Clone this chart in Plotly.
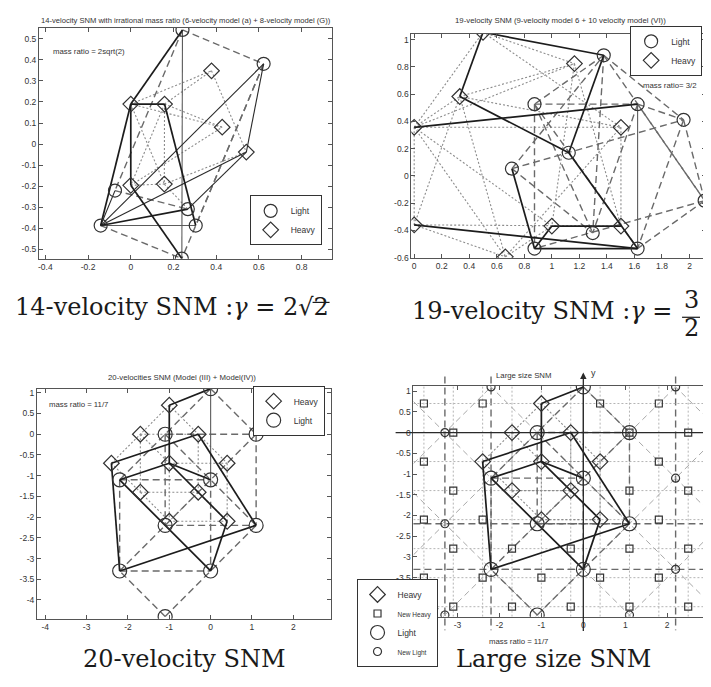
import plotly.graph_objects as go

W, H = 711, 687

# ---------------- Panel 1 : 14-velocity SNM ----------------
p1_light_id = ["A", "B", "C", "D", "E", "F", "G"]
p1_light_x = [0.242, 0.622, -0.074, 0.267, 0.304, -0.141, 0.239]
p1_light_y = [0.542, 0.381, -0.221, -0.309, -0.387, -0.387, -0.544]
p1_heavy_id = ["P", "Q", "R", "S", "T", "U", "V"]
p1_heavy_x = [0.0, 0.158, 0.378, 0.428, 0.541, 0.0, 0.157]
p1_heavy_y = [0.19, 0.19, 0.348, 0.08, -0.038, -0.196, -0.19]
p1_thick = [("A", "P"), ("P", "F"), ("P", "Q"), ("P", "U"), ("Q", "E"), ("F", "D"), ("U", "G")]
p1_thin = [("F", "B"), ("B", "T"), ("T", "D"), ("F", "C"), ("F", "T")]
p1_grey = [("A", "G"), ("F", "E")]
p1_dashed = [("A", "B"), ("A", "C"), ("C", "D"), ("B", "G"), ("B", "E"), ("F", "G")]
p1_dotted = [("P", "R"), ("R", "T"), ("Q", "S"), ("U", "S"), ("V", "T"), ("P", "V"),
             ("Q", "U"), ("Q", "V"), ("U", "V"), ("P", "S"), ("V", "D"), ("Q", "R")]
p1_xticks = [-0.4, -0.2, 0, 0.2, 0.4, 0.6, 0.8]
p1_yticks = [-0.5, -0.4, -0.3, -0.2, -0.1, 0, 0.1, 0.2, 0.3, 0.4, 0.5]

# ---------------- Panel 2 : 19-velocity SNM ----------------
p2_light_id = ["L1", "L2", "L3", "L4", "L5", "L6", "L7", "L8", "L9", "L10"]
p2_light_x = [1.377, 0.874, 1.623, 1.957, 1.123, 0.71, 2.11, 1.297, 0.874, 1.623]
p2_light_y = [0.886, 0.527, 0.527, 0.412, 0.17, 0.053, -0.182, -0.42, -0.534, -0.534]
p2_heavy_id = ["H1", "H2", "H3", "H4", "H5", "H6", "H7", "H8", "H9"]
p2_heavy_x = [0.5, 1.164, 0.331, 0.0, 1.502, 0.0, 1.0, 1.502, 0.662]
p2_heavy_y = [1.055, 0.825, 0.583, 0.357, 0.357, -0.36, -0.369, -0.369, -0.595]
p2_thick = [("H1", "L1"), ("H1", "H3"), ("H3", "L5"), ("L5", "L1"), ("H4", "L3"), ("H6", "L10"),
            ("L6", "L9"), ("H7", "H8"), ("H7", "L9"), ("L9", "L10"), ("L5", "L10")]
p2_grey = [("L3", "L10")]
p2_dashed = [("L2", "L9"), ("L2", "L3"), ("L6", "L1"), ("L6", "L4"), ("L6", "L8"), ("L2", "L8"),
             ("L1", "L8"), ("L1", "L4"), ("L1", "L7"), ("L3", "L4"), ("L4", "L10"), ("L4", "L7"),
             ("L7", "L9"), ("L7", "L10"), ("L3", "L8"), ("L2", "L10"), ("L1", "L2"), ("L3", "L7")]
p2_dotted = [("H4", "H1"), ("H4", "H3"), ("H4", "H2"), ("H4", "H5"), ("H4", "H6"), ("H4", "H9"),
             ("H4", "H7"), ("H6", "H3"), ("H6", "H8"), ("H6", "H9"), ("H1", "H2"), ("H1", "H5"),
             ("H3", "H2"), ("H3", "H9"), ("H3", "H5"), ("H2", "H7"), ("H2", "H8"), ("H5", "H8"),
             ("H5", "H9"), ("H9", "H7")]
p2_xticks = [0, 0.2, 0.4, 0.6, 0.8, 1, 1.2, 1.4, 1.6, 1.8, 2]
p2_yticks = [-0.6, -0.4, -0.2, 0, 0.2, 0.4, 0.6, 0.8, 1]

# ---------------- Panel 3 / 4 : 20-velocity SNM ----------------
p3_light_id = ["a", "b", "c", "d", "e", "f", "g", "h", "i", "j"]
p3_light_x = [0.0, -1.1, 1.1, -2.2, 0.0, 1.1, -1.1, -2.2, 0.0, -1.1]
p3_light_y = [1.1, 0.0, 0.0, -1.1, -1.1, -2.2, -2.2, -3.3, -3.3, -4.4]
p3_heavy_id = ["k", "l", "m", "n", "o", "p", "q", "r", "s", "t"]
p3_heavy_x = [-1.0, -1.7, -0.3, -2.4, -1.0, 0.4, -1.7, -0.3, -1.0, 0.4]
p3_heavy_y = [0.7, 0.0, 0.0, -0.7, -0.7, -0.7, -1.4, -1.4, -2.1, -2.1]
p3_thick = [("k", "a"), ("k", "o"), ("n", "m"), ("m", "f"), ("n", "h"), ("h", "f"),
            ("d", "o"), ("o", "e"), ("d", "i"), ("i", "t"), ("o", "t")]
p3_grey = [("a", "e")]
p3_dashed = [("b", "c"), ("c", "f"), ("d", "e"), ("b", "g"), ("g", "f"), ("e", "i"), ("h", "i"),
             ("d", "h"), ("a", "c"), ("a", "d"), ("c", "h"), ("b", "f"), ("j", "h"), ("j", "f")]
p3_dotted = [("l", "m"), ("o", "p"), ("q", "r"), ("s", "t"), ("l", "q"), ("m", "r"), ("o", "s"),
             ("p", "t"), ("k", "l"), ("k", "m"), ("n", "l"), ("n", "q"), ("m", "p"), ("q", "s"),
             ("r", "t"), ("l", "o"), ("r", "s")]
p3_xticks = [-4, -3, -2, -1, 0, 1, 2]
p3_yticks = [-4, -3.5, -3, -2.5, -2, -1.5, -1, -0.5, 0, 0.5, 1]

# Panel 4 extras (large size SNM)
p4_newheavy_x = [-3.8, -2.4, 0.4, 1.8, -3.1, 1.1, 2.5, -3.8, 1.8, -3.1, 1.1, 2.5, -3.8, -2.4, 1.8,
                 -3.1, -1.7, -0.3, 1.1, 2.5, -3.8, -2.4, -1.0, 0.4, 1.8, -3.1, -1.7, -0.3, 1.1, 2.5]
p4_newheavy_y = [0.7, 0.7, 0.7, 0.7, 0.0, 0.0, 0.0, -0.7, -0.7, -1.4, -1.4, -1.4, -2.1, -2.1, -2.1,
                 -2.8, -2.8, -2.8, -2.8, -2.8, -3.5, -3.5, -3.5, -3.5, -3.5, -4.2, -4.2, -4.2, -4.2, -4.2]
p4_newlight_x = [-2.2, 2.2, -3.3, 2.2, -3.3, 2.2, -3.3, 1.1]
p4_newlight_y = [1.1, 1.1, 0.0, -1.1, -2.2, -3.3, -4.4, -4.4]
p4_grid_x = [-3.8, -3.1, -2.4, -1.7, -1.0, -0.3, 0.4, 1.1, 1.8, 2.5]
p4_grid_y = [0.7, 0.0, -0.7, -1.4, -2.1, -2.8, -3.5, -4.2]
p4_diag_minus = [-3.3, -1.1, 1.1, 3.3, 5.5]      # x - y = c
p4_diag_plus = [-7.7, -5.5, -3.3, -1.1, 1.1, 3.3]  # x + y = c
p4_dash_vx = [-3.3, -2.2, 2.2]
p4_dash_hy = [-2.2, -3.3]
p4_xticks = [-3, -2, -1, 0, 1, 2]
p4_yticks = [-3.5, -3, -2.5, -2, -1.5, -1, -0.5, 0, 0.5, 1]

# ---------------- layout geometry (pixels) ----------------
PAN = {
    1: dict(xpx=(30, 323), ypx=(19, 252), xr=(-0.43, 0.94), yr=(-0.545, 0.552)),
    2: dict(xpx=(403, 698), ypx=(25, 251), xr=(-0.02, 2.12), yr=(-0.602, 1.044)),
    3: dict(xpx=(28, 322), ypx=(383, 615), xr=(-4.2, 2.9), yr=(-4.45, 1.1)),
    4: dict(xpx=(405, 702), ypx=(380, 613), xr=(-4.05, 3.02), yr=(-4.44, 1.13)),
}

LINE = {
    "thick": dict(color="#1c1c1c", width=1.7),
    "thin": dict(color="#2a2a2a", width=1.1),
    "grey": dict(color="#5c5c5c", width=1.1),
    "dashed": dict(color="#6a6a6a", width=1.4, dash="7px,4px"),
    "dotted": dict(color="#8c8c8c", width=1.1, dash="2px,2px"),
    "grid": dict(color="#b4b4b4", width=1.0, dash="2px,2px"),
    "diag": dict(color="#a8a8a8", width=1.0, dash="6px,4px"),
}
MK_COLOR = "#333333"
FONT = "Liberation Sans"
SERIF = "DejaVu Serif"

fig = go.Figure()


def ids(n):
    return ("x" if n == 1 else f"x{n}"), ("y" if n == 1 else f"y{n}")


def pts_of(idl, xs, ys):
    return {k: (x, y) for k, x, y in zip(idl, xs, ys)}


def add_segments(n, pairs, pts, style):
    xa, ya = ids(n)
    xs, ys = [], []
    for a, b in pairs:
        xs += [pts[a][0], pts[b][0], None]
        ys += [pts[a][1], pts[b][1], None]
    fig.add_trace(go.Scatter(x=xs, y=ys, mode="lines", line=LINE[style], xaxis=xa, yaxis=ya,
                             showlegend=False, hoverinfo="skip"))


def add_lines_xy(n, xs, ys, style):
    xa, ya = ids(n)
    fig.add_trace(go.Scatter(x=xs, y=ys, mode="lines", line=LINE[style], xaxis=xa, yaxis=ya,
                             showlegend=False, hoverinfo="skip"))


def add_markers(n, xs, ys, name, symbol, size, legend):
    xa, ya = ids(n)
    fig.add_trace(go.Scatter(x=xs, y=ys, mode="markers", name=name, xaxis=xa, yaxis=ya,
                             marker=dict(symbol=symbol, size=size, color=MK_COLOR, line=dict(width=1.2)),
                             legend=legend, showlegend=True, hoverinfo="skip"))


# Panel 1
pts1 = {**pts_of(p1_light_id, p1_light_x, p1_light_y), **pts_of(p1_heavy_id, p1_heavy_x, p1_heavy_y)}
for st, pr in [("dotted", p1_dotted), ("dashed", p1_dashed), ("grey", p1_grey), ("thin", p1_thin), ("thick", p1_thick)]:
    add_segments(1, pr, pts1, st)
add_markers(1, p1_light_x, p1_light_y, "Light", "circle-open", 13, "legend")
add_markers(1, p1_heavy_x, p1_heavy_y, "Heavy", "diamond-open", 12, "legend")

# Panel 2
pts2 = {**pts_of(p2_light_id, p2_light_x, p2_light_y), **pts_of(p2_heavy_id, p2_heavy_x, p2_heavy_y)}
for st, pr in [("dotted", p2_dotted), ("dashed", p2_dashed), ("grey", p2_grey), ("thick", p2_thick)]:
    add_segments(2, pr, pts2, st)
add_markers(2, p2_light_x, p2_light_y, "Light", "circle-open", 13, "legend2")
add_markers(2, p2_heavy_x, p2_heavy_y, "Heavy", "diamond-open", 12, "legend2")

# Panel 3
pts3 = {**pts_of(p3_light_id, p3_light_x, p3_light_y), **pts_of(p3_heavy_id, p3_heavy_x, p3_heavy_y)}
for st, pr in [("dotted", p3_dotted), ("dashed", p3_dashed), ("grey", p3_grey), ("thick", p3_thick)]:
    add_segments(3, pr, pts3, st)
add_markers(3, p3_heavy_x, p3_heavy_y, "Heavy", "diamond-open", 12, "legend3")
add_markers(3, p3_light_x, p3_light_y, "Light", "circle-open", 14, "legend3")

# Panel 4 : background lattice
x0, x1 = PAN[4]["xr"]
y0, y1 = PAN[4]["yr"]
gx, gy = [], []
for v in p4_grid_x:
    gx += [v, v, None]; gy += [y0, y1, None]
for v in p4_grid_y:
    gx += [x0, x1, None]; gy += [v, v, None]
add_lines_xy(4, gx, gy, "grid")
dx, dy = [], []
for c in p4_diag_minus:
    xa_, xb_ = max(x0, y0 + c), min(x1, y1 + c)
    if xb_ > xa_:
        dx += [xa_, xb_, None]; dy += [xa_ - c, xb_ - c, None]
for c in p4_diag_plus:
    xa_, xb_ = max(x0, c - y1), min(x1, c - y0)
    if xb_ > xa_:
        dx += [xa_, xb_, None]; dy += [c - xa_, c - xb_, None]
add_lines_xy(4, dx, dy, "diag")
for st, pr in [("dotted", p3_dotted), ("dashed", p3_dashed), ("grey", p3_grey), ("thick", p3_thick)]:
    add_segments(4, pr, pts3, st)
SMALL = '<span style="font-size:6.5px">%s</span>'
add_markers(4, p3_heavy_x, p3_heavy_y, "Heavy", "diamond-open", 12, "legend4")
add_markers(4, p4_newheavy_x, p4_newheavy_y, SMALL % "New Heavy", "square-open", 7, "legend4")
add_markers(4, p3_light_x, p3_light_y, "Light", "circle-open", 14, "legend4")
add_markers(4, p4_newlight_x, p4_newlight_y, SMALL % "New Light", "circle-open", 8, "legend4")


def d2p(n, x, y):
    P = PAN[n]
    (a0, a1), (b0, b1) = P["xpx"], P["ypx"]
    (r0, r1), (s0, s1) = P["xr"], P["yr"]
    px = a0 + (x - r0) / (r1 - r0) * (a1 - a0)
    py = b0 + (s1 - y) / (s1 - s0) * (b1 - b0)
    return px, py


shapes = []
annotations = []

# extended dashed light lines of panel 4 (drawn past the frame like the original)
for v in p4_dash_vx:
    xa_, ya_ = d2p(4, v, 1.35)
    xb_, yb_ = d2p(4, v, -4.77)
    shapes.append(dict(type="line", xref="paper", yref="paper", x0=xa_ / W, x1=xb_ / W,
                       y0=1 - ya_ / H, y1=1 - yb_ / H, layer="below",
                       line=dict(color="#6a6a6a", width=1.4, dash="7px,4px")))
for v in p4_dash_hy:
    xa_, ya_ = d2p(4, -4.05, v)
    xb_, yb_ = d2p(4, 3.2, v)
    shapes.append(dict(type="line", xref="paper", yref="paper", x0=xa_ / W, x1=xb_ / W,
                       y0=1 - ya_ / H, y1=1 - yb_ / H, layer="below",
                       line=dict(color="#6a6a6a", width=1.4, dash="7px,4px")))

# axis arrows of panel 4
hx, hy = d2p(4, 3.2, 0)
tx, ty = d2p(4, -4.5, 0)
annotations.append(dict(x=hx / W, y=1 - hy / H, xref="paper", yref="paper", ax=tx - hx, ay=ty - hy,
                        text="", showarrow=True, arrowhead=2, arrowsize=1, arrowwidth=1.3,
                        arrowcolor="#2a2a2a", standoff=0, startstandoff=0))
hx, hy = d2p(4, 0, 1.45)
tx, ty = d2p(4, 0, -4.77)
annotations.append(dict(x=hx / W, y=1 - hy / H, xref="paper", yref="paper", ax=tx - hx, ay=ty - hy,
                        text="", showarrow=True, arrowhead=2, arrowsize=1, arrowwidth=1.3,
                        arrowcolor="#2a2a2a", standoff=0, startstandoff=0))


def txt(text, xpx, ypx, size, xanchor="center", family=FONT, color="#333333"):
    annotations.append(dict(text=text, x=xpx / W, y=1 - ypx / H, xref="paper", yref="paper",
                            xanchor=xanchor, yanchor="middle", showarrow=False,
                            font=dict(size=size, family=family, color=color)))


txt("y", 585, 367, 9)
txt("x", 701, 436, 9)

# titles
txt("14-velocity SNM with irrational mass ratio (6-velocity model (a) + 8-velocity model (G))", 177, 12, 7.6)
txt("19-velocity SNM (9-velocity model 6 + 10 velocity model (VI))", 552, 12, 7.8)
txt("20-velocities SNM (Model (III) + Model(IV))", 173, 372, 7.8)
txt("Large size SNM", 515, 370, 7.8)

# mass ratio notes
txt("mass ratio = 2sqrt(2)", 42, 43, 7.8, "left")
txt("mass ratio= 3/2", 633, 77, 7.8, "left")
txt("mass ratio = 11/7", 38, 399, 7.8, "left")
txt("mass ratio = 11/7", 510, 638, 7.8)

# captions
CAP = "#1a1a1a"
txt("14-velocity SNM :<i>γ</i> = 2√2", 4, 301, 24, "left", SERIF, CAP)
shapes.append(dict(type="line", xref="paper", yref="paper", x0=304 / W, x1=321 / W,
                   y0=1 - 296 / H, y1=1 - 296 / H, line=dict(color=CAP, width=1.2)))
txt("19-velocity SNM :<i>γ</i> =", 666, 305, 24, "right", SERIF, CAP)
txt("3", 683, 294, 24, "center", SERIF, CAP)
txt("2", 683, 322, 24, "center", SERIF, CAP)
shapes.append(dict(type="line", xref="paper", yref="paper", x0=674 / W, x1=692 / W,
                   y0=1 - 311 / H, y1=1 - 311 / H, line=dict(color=CAP, width=1.2)))
txt("20-velocity SNM", 176, 656, 24, "center", SERIF, CAP)
txt("Large size SNM", 446, 656, 24, "left", SERIF, CAP)


def fmt(v):
    return f"{v:g}"


def axis(n, horizontal, ticks):
    P = PAN[n]
    xa, ya = ids(n)
    if horizontal:
        dom = [P["xpx"][0] / W, P["xpx"][1] / W]
        rng = list(P["xr"])
        anchor = ya
    else:
        dom = [1 - P["ypx"][1] / H, 1 - P["ypx"][0] / H]
        rng = list(P["yr"])
        anchor = xa
    return dict(domain=dom, range=rng, anchor=anchor, tickmode="array", tickvals=ticks,
                ticktext=[fmt(t) for t in ticks], ticks="inside", ticklen=4, tickwidth=1,
                tickcolor="#555555", showline=True, linecolor="#555555", linewidth=1,
                mirror="ticks", showgrid=False, zeroline=False, fixedrange=True,
                tickfont=dict(size=8.5, family=FONT, color="#333333"))


def legend_cfg(xpx, ypx):
    return dict(x=xpx / W, y=1 - ypx / H, xref="paper", yref="paper", xanchor="left", yanchor="top",
                bgcolor="white", bordercolor="#333333", borderwidth=1,
                font=dict(size=8.5, family=FONT, color="#333333"), itemwidth=30,
                traceorder="normal", itemclick=False, itemdoubleclick=False)


fig.update_layout(
    width=W, height=H, margin=dict(l=0, r=0, t=0, b=0),
    paper_bgcolor="white", plot_bgcolor="rgba(0,0,0,0)",
    xaxis=axis(1, True, p1_xticks), yaxis=axis(1, False, p1_yticks),
    xaxis2=axis(2, True, p2_xticks), yaxis2=axis(2, False, p2_yticks),
    xaxis3=axis(3, True, p3_xticks), yaxis3=axis(3, False, p3_yticks),
    xaxis4=axis(4, True, p4_xticks), yaxis4=axis(4, False, p4_yticks),
    legend=legend_cfg(241, 188), legend2=legend_cfg(622, 17),
    legend3=legend_cfg(244, 380), legend4=legend_cfg(348, 575),
    shapes=shapes, annotations=annotations, showlegend=True,
    font=dict(family=FONT),
)

fig.write_html("out.html")
